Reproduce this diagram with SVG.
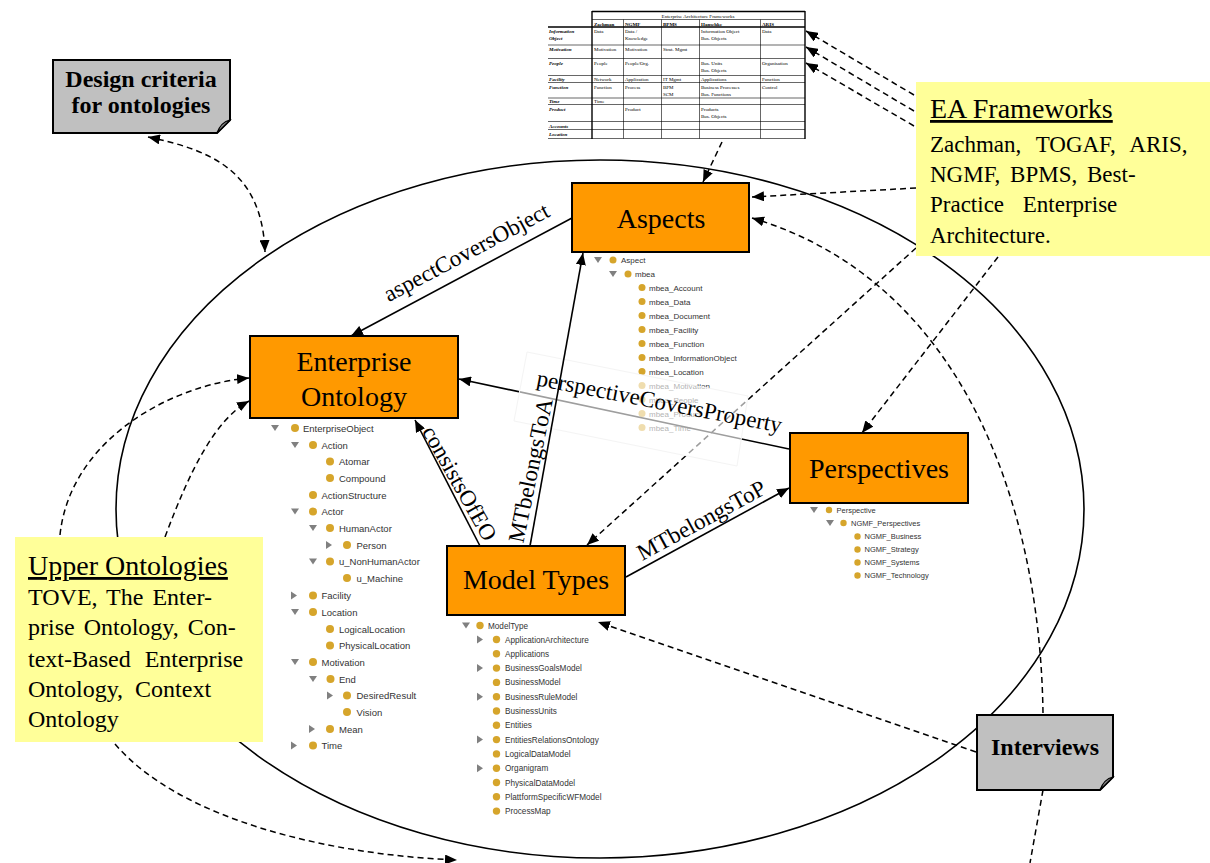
<svg xmlns="http://www.w3.org/2000/svg" width="1210" height="863" viewBox="0 0 1210 863">
  <style>
    .serif { font-family: "Liberation Serif", "Times New Roman", serif; fill: #000; }
    .node rect { fill: #FF9900; stroke: #000; stroke-width: 2; }
    .ntext { font-size: 28px; text-anchor: middle; }
    .elabel { font-size: 23px; text-anchor: middle; }
    .solid { stroke: #000; stroke-width: 1.6; fill: none; }
    .dash { stroke: #000; stroke-width: 1.5; fill: none; stroke-dasharray: 6 4; }
    .note path.body { fill: #C0C0C0; stroke: #000; stroke-width: 2; }
    .note path.fold { fill: #8c8c8c; stroke: #000; stroke-width: 1.2; }
    .ntitle { font-size: 24px; font-weight: bold; text-anchor: middle; }
    .yellow { fill: #FFFF99; }
    .ybig { font-size: 28px; text-decoration: underline; }
    .ybody { font-size: 23px; }
    .tree text { font-family: "Liberation Sans", Arial, sans-serif; fill: #333; }
    .dot { fill: #D6A52B; }
    .tri { fill: #808080; }
    .tbl line { stroke: #000; stroke-width: 0.6; }
    .tbl line.thick { stroke-width: 1.4; }
    .tbl text { font-family: "Liberation Serif", "Times New Roman", serif; font-size: 5px; fill: #000; }
    .tbl text.lab { font-weight: bold; font-style: italic; }
    .tbl text.hd { font-weight: bold; }
  </style>
  <defs>
    <marker id="ah" viewBox="0 0 12 10" refX="12" refY="5" markerWidth="12" markerHeight="10" markerUnits="userSpaceOnUse" orient="auto-start-reverse">
      <path d="M0,0 L12,5 L0,10 Z" fill="#000"/>
    </marker>
    <path id="tdown" d="M-4,-3 L4,-3 L0,3 Z"/>
    <path id="tright" d="M-3,-4 L3,0 L-3,4 Z"/>
  </defs>

  <rect width="1210" height="863" fill="#fff"/>

  <!-- large scope ellipse -->
  <ellipse cx="600" cy="509" rx="484" ry="349" fill="none" stroke="#000" stroke-width="1.6"/>

  <!-- framework comparison table -->
  <g id="framework-table" class="tbl">
    <line class="thick" x1="592" y1="11.5" x2="805" y2="11.5"/>
    <line class="thick" x1="592" y1="11" x2="592" y2="139"/>
    <line class="thick" x1="805" y1="11" x2="805" y2="139"/>
    <line x1="592" y1="19.5" x2="805" y2="19.5"/>
    <line class="thick" x1="548" y1="27" x2="805" y2="27"/>
    <line x1="548" y1="45" x2="805" y2="45"/>
    <line x1="548" y1="58.5" x2="805" y2="58.5"/>
    <line x1="548" y1="75.5" x2="805" y2="75.5"/>
    <line x1="548" y1="82.5" x2="805" y2="82.5"/>
    <line x1="548" y1="98" x2="805" y2="98"/>
    <line x1="548" y1="104.5" x2="805" y2="104.5"/>
    <line x1="548" y1="121.5" x2="805" y2="121.5"/>
    <line x1="548" y1="129.5" x2="805" y2="129.5"/>
    <line x1="548" y1="138.5" x2="805" y2="138.5"/>
    <line x1="623.5" y1="19.5" x2="623.5" y2="138.5"/>
    <line x1="661.5" y1="19.5" x2="661.5" y2="138.5"/>
    <line x1="699.5" y1="19.5" x2="699.5" y2="138.5"/>
    <line x1="760.5" y1="19.5" x2="760.5" y2="138.5"/>
    <text x="698" y="17.5" text-anchor="middle">Enterprise Architecture Frameworks</text>
    <text class="hd" x="594" y="25.5">Zachman</text>
    <text class="hd" x="625" y="25.5">NGMF</text>
    <text class="hd" x="663" y="25.5">BPMS</text>
    <text class="hd" x="701" y="25.5">Hanschke</text>
    <text class="hd" x="762" y="25.5">ARIS</text>
    <text class="lab" x="549" y="33">Information</text>
    <text class="lab" x="549" y="40">Object</text>
    <text x="594" y="33">Data</text>
    <text x="625" y="33">Data /</text>
    <text x="625" y="40">Knowledge</text>
    <text x="701" y="33">Information Object</text>
    <text x="701" y="40">Bus. Objects</text>
    <text x="762" y="33">Data</text>
    <text class="lab" x="549" y="51">Motivation</text>
    <text x="594" y="51">Motivation</text>
    <text x="625" y="51">Motivation</text>
    <text x="663" y="51">Strat. Mgmt</text>
    <text class="lab" x="549" y="65">People</text>
    <text x="594" y="65">People</text>
    <text x="625" y="65">People/Org.</text>
    <text x="701" y="65">Bus. Units</text>
    <text x="701" y="72">Bus. Objects</text>
    <text x="762" y="65">Organisation</text>
    <text class="lab" x="549" y="81">Facility</text>
    <text x="594" y="81">Network</text>
    <text x="625" y="81">Application</text>
    <text x="663" y="81">IT Mgmt</text>
    <text x="701" y="81">Applications</text>
    <text x="762" y="81">Function</text>
    <text class="lab" x="549" y="88.5">Function</text>
    <text x="594" y="88.5">Function</text>
    <text x="625" y="88.5">Process</text>
    <text x="663" y="88.5">BPM</text>
    <text x="663" y="95.5">SCM</text>
    <text x="701" y="88.5">Business Processes</text>
    <text x="701" y="95.5">Bus. Functions</text>
    <text x="762" y="88.5">Control</text>
    <text class="lab" x="549" y="103">Time</text>
    <text x="594" y="103">Time</text>
    <text class="lab" x="549" y="110.5">Product</text>
    <text x="625" y="110.5">Product</text>
    <text x="701" y="110.5">Products</text>
    <text x="701" y="117.5">Bus. Objects</text>
    <text class="lab" x="549" y="127.5">Accounts</text>
    <text class="lab" x="549" y="136">Location</text>
  </g>

  <!-- ontology class trees -->
  <g id="tree-aspect" class="tree" font-size="8">
    <use href="#tdown" class="tri" x="598" y="260"/><circle class="dot" cx="613" cy="260" r="3.5"/><text x="621" y="263">Aspect</text>
    <use href="#tdown" class="tri" x="613" y="274"/><circle class="dot" cx="628" cy="274" r="3.5"/><text x="635" y="277">mbea</text>
    <circle class="dot" cx="642" cy="287.5" r="3.5"/><text x="649" y="290.5">mbea_Account</text>
    <circle class="dot" cx="642" cy="301.5" r="3.5"/><text x="649" y="304.5">mbea_Data</text>
    <circle class="dot" cx="642" cy="315.5" r="3.5"/><text x="649" y="318.5">mbea_Document</text>
    <circle class="dot" cx="642" cy="329.5" r="3.5"/><text x="649" y="332.5">mbea_Facility</text>
    <circle class="dot" cx="642" cy="343.5" r="3.5"/><text x="649" y="346.5">mbea_Function</text>
    <circle class="dot" cx="642" cy="357.5" r="3.5"/><text x="649" y="360.5">mbea_InformationObject</text>
    <circle class="dot" cx="642" cy="371.5" r="3.5"/><text x="649" y="374.5">mbea_Location</text>
    <circle class="dot" cx="642" cy="385.5" r="3.5"/><text x="649" y="388.5">mbea_Motivation</text>
    <circle class="dot" cx="642" cy="399.5" r="3.5"/><text x="649" y="402.5">mbea_People</text>
    <circle class="dot" cx="642" cy="413.5" r="3.5"/><text x="649" y="416.5">mbea_Product</text>
    <circle class="dot" cx="642" cy="427.5" r="3.5"/><text x="649" y="430.5">mbea_Time</text>
  </g>

  <g id="tree-enterprise" class="tree" font-size="9.5">
    <use href="#tdown" class="tri" x="275" y="428"/><circle class="dot" cx="295" cy="428" r="4"/><text x="303" y="431.5">EnterpriseObject</text>
    <use href="#tdown" class="tri" x="295" y="445"/><circle class="dot" cx="313" cy="445" r="4"/><text x="321.5" y="448.5">Action</text>
    <circle class="dot" cx="330" cy="461.5" r="4"/><text x="339" y="465">Atomar</text>
    <circle class="dot" cx="330" cy="478" r="4"/><text x="339" y="481.5">Compound</text>
    <circle class="dot" cx="313" cy="495" r="4"/><text x="321.5" y="498.5">ActionStructure</text>
    <use href="#tdown" class="tri" x="295" y="511.5"/><circle class="dot" cx="313" cy="511.5" r="4"/><text x="321.5" y="515">Actor</text>
    <use href="#tdown" class="tri" x="313" y="528"/><circle class="dot" cx="330" cy="528" r="4"/><text x="339" y="531.5">HumanActor</text>
    <use href="#tright" class="tri" x="329" y="545"/><circle class="dot" cx="347" cy="545" r="4"/><text x="356.5" y="548.5">Person</text>
    <use href="#tdown" class="tri" x="313" y="561.5"/><circle class="dot" cx="330" cy="561.5" r="4"/><text x="339" y="565">u_NonHumanActor</text>
    <circle class="dot" cx="347" cy="578" r="4"/><text x="356.5" y="581.5">u_Machine</text>
    <use href="#tright" class="tri" x="294" y="595.5"/><circle class="dot" cx="313" cy="595.5" r="4"/><text x="321.5" y="599">Facility</text>
    <use href="#tdown" class="tri" x="295" y="612"/><circle class="dot" cx="313" cy="612" r="4"/><text x="321.5" y="615.5">Location</text>
    <circle class="dot" cx="330" cy="629" r="4"/><text x="339" y="632.5">LogicalLocation</text>
    <circle class="dot" cx="330" cy="645.5" r="4"/><text x="339" y="649">PhysicalLocation</text>
    <use href="#tdown" class="tri" x="295" y="662"/><circle class="dot" cx="313" cy="662" r="4"/><text x="321.5" y="665.5">Motivation</text>
    <use href="#tdown" class="tri" x="313" y="679"/><circle class="dot" cx="330.5" cy="679" r="4"/><text x="339" y="682.5">End</text>
    <use href="#tright" class="tri" x="330" y="695.5"/><circle class="dot" cx="347" cy="695.5" r="4"/><text x="356.5" y="699">DesiredResult</text>
    <circle class="dot" cx="347" cy="712" r="4"/><text x="356.5" y="715.5">Vision</text>
    <use href="#tright" class="tri" x="312" y="729"/><circle class="dot" cx="330" cy="729" r="4"/><text x="339" y="732.5">Mean</text>
    <use href="#tright" class="tri" x="294" y="745.5"/><circle class="dot" cx="313" cy="745.5" r="4"/><text x="321.5" y="749">Time</text>
  </g>

  <g id="tree-modeltype" class="tree" font-size="8.2">
    <use href="#tdown" class="tri" x="466" y="625.5"/><circle class="dot" cx="480" cy="625.5" r="3.7"/><text x="488" y="628.5">ModelType</text>
    <use href="#tright" class="tri" x="480" y="639.5"/><circle class="dot" cx="496.5" cy="639.5" r="3.7"/><text x="505" y="642.5">ApplicationArchitecture</text>
    <circle class="dot" cx="496.5" cy="653.8" r="3.7"/><text x="505" y="656.8">Applications</text>
    <use href="#tright" class="tri" x="480" y="668.1"/><circle class="dot" cx="496.5" cy="668.1" r="3.7"/><text x="505" y="671.1">BusinessGoalsModel</text>
    <circle class="dot" cx="496.5" cy="682.4" r="3.7"/><text x="505" y="685.4">BusinessModel</text>
    <use href="#tright" class="tri" x="480" y="696.7"/><circle class="dot" cx="496.5" cy="696.7" r="3.7"/><text x="505" y="699.7">BusinessRuleModel</text>
    <circle class="dot" cx="496.5" cy="711" r="3.7"/><text x="505" y="714">BusinessUnits</text>
    <circle class="dot" cx="496.5" cy="725.3" r="3.7"/><text x="505" y="728.3">Entities</text>
    <use href="#tright" class="tri" x="480" y="739.6"/><circle class="dot" cx="496.5" cy="739.6" r="3.7"/><text x="505" y="742.6">EntitiesRelationsOntology</text>
    <circle class="dot" cx="496.5" cy="753.9" r="3.7"/><text x="505" y="756.9">LogicalDataModel</text>
    <use href="#tright" class="tri" x="480" y="768.2"/><circle class="dot" cx="496.5" cy="768.2" r="3.7"/><text x="505" y="771.2">Organigram</text>
    <circle class="dot" cx="496.5" cy="782.5" r="3.7"/><text x="505" y="785.5">PhysicalDataModel</text>
    <circle class="dot" cx="496.5" cy="796.8" r="3.7"/><text x="505" y="799.8">PlattformSpecificWFModel</text>
    <circle class="dot" cx="496.5" cy="811.1" r="3.7"/><text x="505" y="814.1">ProcessMap</text>
  </g>

  <g id="tree-perspective" class="tree" font-size="7.5">
    <use href="#tdown" class="tri" x="814" y="510"/><circle class="dot" cx="829" cy="510" r="3.2"/><text x="836.5" y="512.7">Perspective</text>
    <use href="#tdown" class="tri" x="830" y="523"/><circle class="dot" cx="843.5" cy="523" r="3.2"/><text x="851" y="525.7">NGMF_Perspectives</text>
    <circle class="dot" cx="857.5" cy="536.5" r="3.2"/><text x="864.5" y="539.2">NGMF_Business</text>
    <circle class="dot" cx="857.5" cy="549.5" r="3.2"/><text x="864.5" y="552.2">NGMF_Strategy</text>
    <circle class="dot" cx="857.5" cy="562.5" r="3.2"/><text x="864.5" y="565.2">NGMF_Systems</text>
    <circle class="dot" cx="857.5" cy="575.5" r="3.2"/><text x="864.5" y="578.2">NGMF_Technology</text>
  </g>

  <!-- connectors -->
  <g id="connectors">
    <path class="dash" d="M914,95 L806,31" marker-end="url(#ah)"/>
    <path class="dash" d="M914,111 L806,47" marker-end="url(#ah)"/>
    <path class="dash" d="M914,126 L806,63" marker-end="url(#ah)"/>
    <path class="dash" d="M722,142 L703,182" marker-end="url(#ah)"/>
    <path class="dash" d="M916,188 L752,197" marker-end="url(#ah)"/>
    <path class="dash" d="M1043,713 C1040,500 960,280 752,218" marker-end="url(#ah)"/>
    <path class="dash" d="M998,257 L862,433" marker-end="url(#ah)"/>
    <path class="dash" d="M916,248 L587,545" marker-end="url(#ah)"/>
    <path class="dash" d="M976,752 L598,622" marker-end="url(#ah)"/>
    <path class="dash" d="M148,137 C210,150 262,170 265,252" marker-start="url(#ah)" marker-end="url(#ah)"/>
    <path class="dash" d="M60,535 C70,440 170,385 249,378" marker-end="url(#ah)"/>
    <path class="dash" d="M165,537 C190,470 215,420 249,401" marker-end="url(#ah)"/>
    <path class="dash" d="M115,744 C180,820 330,855 457,860" marker-end="url(#ah)"/>
    <path class="dash" d="M1043,790 L1030,863"/>
    <path class="solid" d="M572,218 L351,336" marker-end="url(#ah)"/>
    <path class="solid" d="M789,449 L459,379" marker-end="url(#ah)"/>
    <!-- translucent backing of the perspectiveCoversProperty label -->
    <polygon points="527,352 748,396 737,466 514,421" fill="#fff" fill-opacity="0.62" stroke="#f4f4f4" stroke-width="1"/>
    <path class="solid" d="M480,546 L415,420" marker-end="url(#ah)"/>
    <path class="solid" d="M530,546 L583,253" marker-end="url(#ah)"/>
    <path class="solid" d="M626,577 L789,488" marker-end="url(#ah)"/>
  </g>

  <!-- connector labels -->
  <g id="edge-labels" class="serif">
    <text class="elabel" transform="translate(470,259) rotate(-28)">aspectCoversObject</text>
    <text class="elabel" transform="translate(658,409) rotate(11)">perspectiveCoversProperty</text>
    <text class="elabel" transform="translate(453,487) rotate(60.5)">consistsOfEO</text>
    <text class="elabel" transform="translate(538,472) rotate(-78.4)">MTbelongsToA</text>
    <text class="elabel" transform="translate(705,527) rotate(-28.5)">MTbelongsToP</text>
  </g>

  <!-- concept nodes -->
  <g id="aspects" class="node">
    <rect x="572" y="183" width="177" height="69"/>
    <text class="serif ntext" x="661" y="228">Aspects</text>
  </g>
  <g id="enterprise-ontology" class="node">
    <rect x="250" y="336" width="208" height="82"/>
    <text class="serif ntext" x="354" y="371">Enterprise</text>
    <text class="serif ntext" x="354" y="406">Ontology</text>
  </g>
  <g id="perspectives" class="node">
    <rect x="790" y="433" width="178" height="70"/>
    <text class="serif ntext" x="879" y="478">Perspectives</text>
  </g>
  <g id="model-types" class="node">
    <rect x="447" y="546" width="178" height="69"/>
    <text class="serif ntext" x="536" y="589">Model Types</text>
  </g>

  <!-- source boxes -->
  <g id="ea-frameworks">
    <rect class="yellow" x="916" y="82" width="294" height="174"/>
    <text class="serif ybig" x="930" y="118">EA Frameworks</text>
    <text class="serif ybody" x="930" y="152" word-spacing="9">Zachman, TOGAF, ARIS,</text>
    <text class="serif ybody" x="930" y="182" word-spacing="4">NGMF, BPMS, Best-</text>
    <text class="serif ybody" x="930" y="212" word-spacing="13">Practice Enterprise</text>
    <text class="serif ybody" x="930" y="243">Architecture.</text>
  </g>
  <g id="upper-ontologies">
    <rect class="yellow" x="15" y="537" width="248" height="205"/>
    <text class="serif ybig" x="28" y="575">Upper Ontologies</text>
    <text class="serif" font-size="24" x="28" y="605" word-spacing="3">TOVE, The Enter-</text>
    <text class="serif" font-size="24" x="28" y="635" word-spacing="3">prise Ontology, Con-</text>
    <text class="serif" font-size="24" x="28" y="667" word-spacing="8">text-Based Enterprise</text>
    <text class="serif" font-size="24" x="28" y="697" word-spacing="6">Ontology, Context</text>
    <text class="serif" font-size="24" x="28" y="727">Ontology</text>
  </g>
  <g id="design-criteria" class="note">
    <path class="body" d="M53,60 H230 V120 L217,133 H53 Z"/>
    <path class="fold" d="M230,120 Q221,122 217,133 Z"/>
    <text class="serif ntitle" x="141" y="87">Design criteria</text>
    <text class="serif ntitle" x="141" y="113">for ontologies</text>
  </g>
  <g id="interviews" class="note">
    <path class="body" d="M977,715 H1113 V777 L1100,790 H977 Z"/>
    <path class="fold" d="M1113,777 Q1104,779 1100,790 Z"/>
    <text class="serif ntitle" x="1045" y="755">Interviews</text>
  </g>
</svg>
